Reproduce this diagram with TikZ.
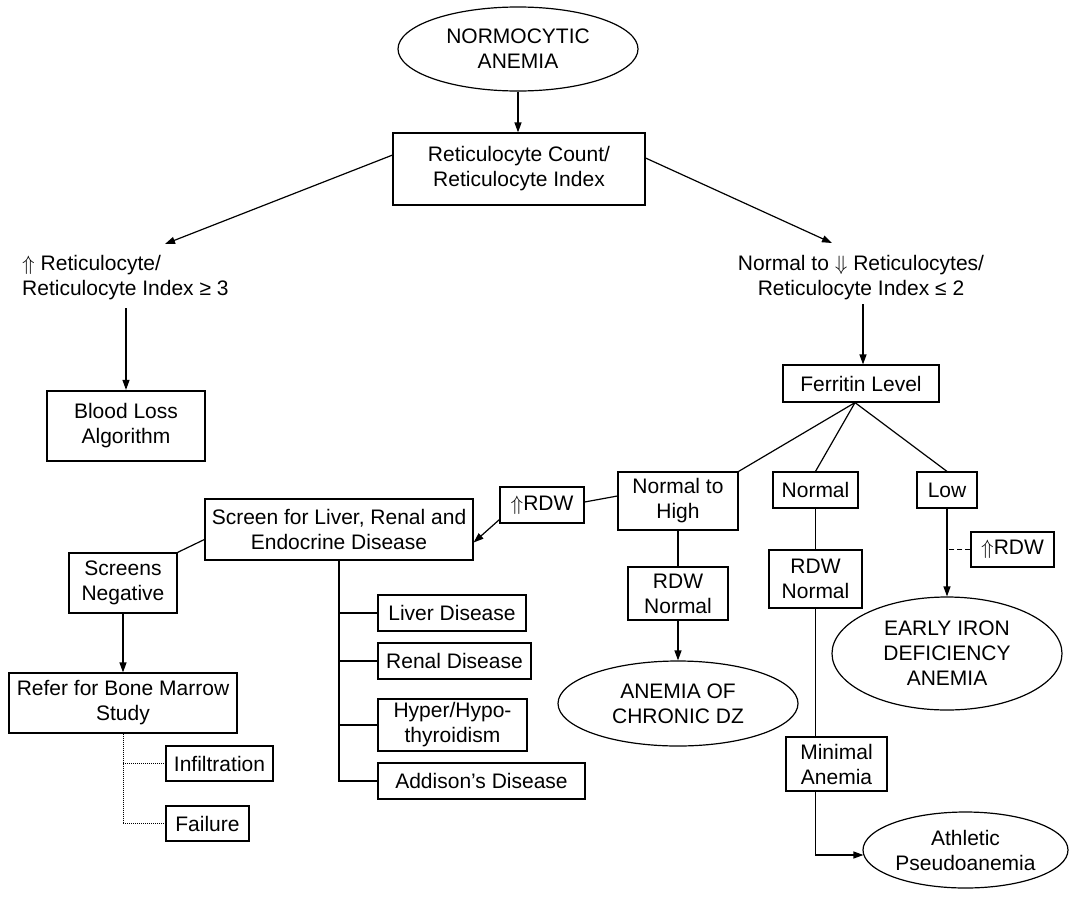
\documentclass[tikz,border=0pt]{standalone}
\usepackage{fontspec}
\setmainfont{Liberation Sans}
\usetikzlibrary{shapes.geometric,arrows.meta,calc}
\begin{document}
\begin{tikzpicture}[x=1pt,y=-1pt,
  every node/.style={font=\fontsize{21}{25}\selectfont, align=center, inner sep=0pt},
  box/.style n args={2}{draw, rectangle, line width=1.2pt, minimum width=#1, minimum height=#2},
  oval/.style n args={2}{draw, ellipse, line width=1.2pt, minimum width=#1, minimum height=#2},
  conn/.style={line width=1.2pt},
  arr/.style={conn, -{Triangle[length=10pt,width=7pt]}},
  dashline/.style={line width=1.1pt, dash pattern=on 5pt off 3pt},
  dotline/.style={line width=1pt, dash pattern=on 1pt off 1pt}]
\useasboundingbox (0,0) rectangle (1073,897);

% top of the tree
\node[oval={240}{84}] (top) at (518,49) {NORMOCYTIC\\ANEMIA};
\node[box={252}{72}] (ret) at (519,169) {Reticulocyte Count/\\Reticulocyte Index};

% the two reticulocyte outcomes
\node[anchor=west, align=left] (lt) at (22,278) {$\Uparrow$ Reticulocyte/\\Reticulocyte Index ≥ 3};
\node (rt) at (861,278) {Normal to $\Downarrow$ Reticulocytes/\\Reticulocyte Index ≤ 2};
\coordinate (tipL) at (165,244);
\coordinate (tipR) at (832,243);
\coordinate (fromL) at (126,308);
\coordinate (fromR) at (863,304);

\node[box={158}{70}, line width=2.2pt] (blood) at (126,426) {Blood Loss\\Algorithm};
\node[box={156}{37}] (ferr) at (861,383.5) {Ferritin Level};

% ferritin branches
\node[box={120}{58}] (nth) at (678,501) {Normal to\\High};
\node[box={85}{36}] (norm) at (815.5,490) {Normal};
\node[box={60}{36}] (low) at (947,490) {Low};
\node[box={100}{53}] (rdw1) at (678,593.5) {RDW\\Normal};
\node[box={93}{58}] (rdw2) at (815.5,579) {RDW\\Normal};
\node[box={83}{35}] (uprdwR) at (1012.5,549.5) {$\Uparrow$RDW};
\node[box={84}{36}] (uprdwL) at (542,505) {$\Uparrow$RDW};
\node[oval={240}{85}] (chronic) at (678,703.5) {ANEMIA OF\\CHRONIC DZ};
\node[oval={230}{113}] (early) at (947,653.5) {EARLY IRON\\DEFICIENCY\\ANEMIA};
\node[box={101}{54}] (minimal) at (836.5,764) {Minimal\\Anemia};
\node[oval={205}{76}] (athletic) at (965.5,850) {Athletic\\Pseudoanemia};

% screening branch
\node[box={268}{61}] (screen) at (339,529.5) {Screen for Liver, Renal and\\Endocrine Disease};
\node[box={108}{60}] (sneg) at (123,583) {Screens\\Negative};
\node[box={228}{60}] (refer) at (123,703) {Refer for Bone Marrow\\Study};
\node[box={107}{35}] (infil) at (219.5,763.5) {Infiltration};
\node[box={83}{35}] (fail) at (207.5,823.5) {Failure};
\node[box={148}{36}] (liver) at (452,613) {Liver Disease};
\node[box={153}{36}] (renal) at (454.5,661) {Renal Disease};
\node[box={149}{52}] (hyper) at (452.5,725) {Hyper/Hypo-\\thyroidism};
\node[box={207}{36}] (addison) at (481.5,781) {Addison’s Disease};

% connectors
\draw[arr] (top.south) -- (top.south |- ret.north);
\draw[arr] ($(ret.north west)!0.31!(ret.south west)$) -- (tipL);
\draw[arr] ($(ret.north east)!0.35!(ret.south east)$) -- (tipR);
\draw[arr] (fromL) -- (blood.north);
\draw[arr] (fromR) -- (fromR |- ferr.north);

\coordinate (fs) at ($(ferr.south)+(-6,0)$);
\draw[conn] (fs) -- (nth.north east);
\draw[conn] (fs) -- (norm.north);
\draw[conn] (fs) -- (low.north);

\draw[conn] (nth.south) -- (rdw1.north);
\draw[arr] (rdw1.south) -- (chronic.north);
\draw[conn] (norm.south) -- (rdw2.north);
\draw[conn] (rdw2.south) -- (rdw2.south |- minimal.north);
\draw[arr] (rdw2.south |- minimal.south) |- ($(athletic.west)+(1,5)$);
\draw[arr] (low.south) -- (early.north);
\draw[dashline] (uprdwR.west) -- (uprdwR.west -| low.south);

\draw[conn] ($(nth.west)+(0,-5)$) -- ($(uprdwL.east)+(0,-3)$);
\draw[arr] ($(uprdwL.south west)+(0,-4)$) -- ($(screen.east)+(0,13)$);
\draw[conn] ($(screen.west)+(0,10)$) -- (sneg.north east);
\draw[arr] (sneg.south) -- (refer.north);
\draw[dotline] (refer.south) |- (fail.west);
\draw[dotline] (refer.south |- infil.west) -- (infil.west);

\draw[conn] (screen.south) |- (addison.west);
\draw[conn] (screen.south |- liver.west) -- (liver.west);
\draw[conn] (screen.south |- renal.west) -- (renal.west);
\draw[conn] (screen.south |- hyper.west) -- (hyper.west);
\end{tikzpicture}
\end{document}
